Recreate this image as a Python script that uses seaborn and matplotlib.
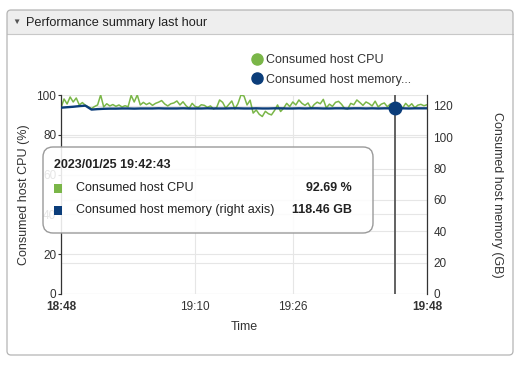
import matplotlib
matplotlib.use("Agg")
import matplotlib.pyplot as plt
import matplotlib.transforms as mtransforms
from matplotlib.patches import FancyBboxPatch, Rectangle
from matplotlib.lines import Line2D
import pandas as pd
import seaborn as sns

# ── data ────────────────────────────────────────────────────────────────────
START = "2023-01-25 18:48"

# consumed host CPU (%), one sample every 30 s
cpu_pct = [
    93.5, 98.0, 95.5, 99.0, 96.5, 98.5, 95.0, 96.2, 94.8, 94.0,
    93.2, 94.2, 95.0, 100.0, 94.0, 95.6, 94.5, 95.2, 94.3, 95.0,
    94.0, 94.6, 94.1, 99.8, 96.5, 100.0, 95.0, 96.3, 95.2, 96.0,
    94.8, 95.8, 96.4, 97.2, 95.5, 94.5, 95.6, 96.0, 97.0, 95.0,
    96.6, 94.6, 93.3, 95.8, 94.2, 93.8, 95.1, 94.8, 93.8, 94.5,
    93.0, 93.6, 97.5, 96.3, 93.4, 95.2, 97.0, 93.0, 95.6, 100.0,
    99.5, 95.0, 97.4, 90.9, 92.5, 90.3, 89.2, 91.8, 90.6, 90.0,
    92.2, 95.0, 91.7, 93.4, 95.8, 94.2, 96.5, 95.0, 97.5, 95.8,
    94.8, 96.0, 93.2, 95.2, 96.4, 95.6, 97.8, 93.5, 95.4, 94.3,
    96.3, 96.8, 95.3, 93.2, 93.0, 95.8, 95.1, 97.5, 96.2, 94.8,
    96.5, 95.7, 94.5, 96.9, 94.0, 95.4, 96.0, 94.1, 95.5, 93.8,
    92.7, 95.0, 93.4, 95.8, 94.2, 95.6, 93.6, 94.9, 95.3, 94.6,
    95.1,
]

# consumed host memory (GB), one sample per minute
mem_gb = [
    118.9, 119.2, 119.5, 119.9, 120.2, 117.7, 118.0, 118.2, 118.3, 118.3,
    118.4, 118.4, 118.3, 118.4, 118.4, 118.4, 118.5, 118.4, 118.4, 118.4,
    118.5, 118.4, 118.4, 118.4, 118.5, 118.4, 118.4, 118.4, 118.5, 118.5,
    118.4, 118.4, 118.5, 118.4, 118.4, 118.5, 118.5, 118.4, 118.4, 118.5,
    118.4, 118.5, 118.5, 118.4, 118.4, 118.5, 118.5, 118.4, 118.5, 118.5,
    118.4, 118.5, 118.4, 118.5, 118.5, 118.46, 118.5, 118.4, 118.5, 118.5,
    118.5,
]

x_tick_labels = ["18:48", "19:10", "19:26", "19:48"]
cpu_ticks = [0, 20, 40, 60, 80, 100]
mem_ticks = [0, 20, 40, 60, 80, 100, 120]
MEM_MAX = 127.0

hover_time = "2023-01-25 19:42:43"
hover_label = "2023/01/25 19:42:43"
hover_cpu = 92.69
hover_mem = 118.46

GREEN = "#7ab648"
NAVY = "#0b3d7a"
GRID = "#e6e6e6"
TXT = "#333333"

W, H = 525, 382
def fx(px): return px / W
def fy(py): return 1 - py / H

df_cpu = pd.DataFrame({"time": pd.date_range(START, periods=len(cpu_pct), freq="30s"),
                       "cpu": cpu_pct})
df_mem = pd.DataFrame({"time": pd.date_range(START, periods=len(mem_gb), freq="60s"),
                       "mem": mem_gb})

# ── figure ──────────────────────────────────────────────────────────────────
sns.set_theme(style="white")
plt.rcParams["font.family"] = ["Liberation Sans", "DejaVu Sans"]

fig = plt.figure(figsize=(W / 100, H / 100), dpi=100)
px = mtransforms.IdentityTransform()

# panel + header
fig.add_artist(FancyBboxPatch((7, H - 355), 506, 345, boxstyle="round,pad=0,rounding_size=4",
                              transform=px, fc="white", ec="none", zorder=-5))
fig.add_artist(FancyBboxPatch((7, H - 34), 506, 24, boxstyle="round,pad=0,rounding_size=4",
                              transform=px, fc="#eeeeee", ec="none", zorder=-4))
fig.add_artist(Rectangle((7, H - 34), 506, 8, transform=px, fc="#eeeeee", ec="none", zorder=-4))
fig.add_artist(Line2D([7, 513], [H - 34, H - 34], transform=px, color="#c8c8c8", lw=0.8, zorder=-3))
fig.add_artist(FancyBboxPatch((7, H - 355), 506, 345, boxstyle="round,pad=0,rounding_size=4",
                              transform=px, fc="none", ec="#b4b4b4", lw=0.9, zorder=20))
fig.text(fx(16), fy(22.5), "\u25bc", fontsize=6, color="#555555", ha="center", va="center")
fig.text(fx(26), fy(23), "Performance summary last hour", fontsize=9.2, color="#222222",
         va="center")

ax = fig.add_axes([fx(61), fy(294), fx(427) - fx(61), fy(95) - fy(294)])
ax2 = ax.twinx()

sns.lineplot(data=df_cpu, x="time", y="cpu", ax=ax, color=GREEN, lw=1.1)
sns.lineplot(data=df_mem, x="time", y="mem", ax=ax2, color=NAVY, lw=1.7)

ax.set_xlim(df_cpu["time"].iloc[0], df_cpu["time"].iloc[-1])
ax.set_ylim(0, 100)
ax2.set_ylim(0, MEM_MAX)
ax.set_yticks(cpu_ticks)
ax2.set_yticks(mem_ticks)
xt = [pd.Timestamp(f"2023-01-25 {t}") for t in x_tick_labels]
ax.set_xticks(xt)
ax.set_xticklabels(x_tick_labels)
for i in (0, -1):
    ax.get_xticklabels()[i].set_fontweight("bold")

# grid: left ticks, right ticks and x ticks, all under the lines
ax.grid(True, color=GRID, lw=0.8)
ax.set_axisbelow(True)
blend = mtransforms.blended_transform_factory(ax.transAxes, ax2.transData)
for v in mem_ticks:
    ax.plot([0, 1], [v, v], transform=blend, color=GRID, lw=0.8, zorder=0.5)

for s in ("top", "bottom", "right"):
    ax.spines[s].set_visible(False)
for s in ("top", "bottom", "left"):
    ax2.spines[s].set_visible(False)
ax.spines["left"].set_color(TXT)
ax.spines["left"].set_linewidth(0.9)
ax2.spines["right"].set_color(TXT)
ax2.spines["right"].set_linewidth(0.9)

ax.tick_params(axis="y", length=2.5, width=0.8, pad=1, labelsize=8.5, colors=TXT, left=True)
ax.tick_params(axis="x", length=0, pad=5, labelsize=8.5, colors=TXT)
ax2.tick_params(axis="y", length=0, pad=4.5, labelsize=8.5, colors=TXT)

ax.set_xlabel("Time", fontsize=9, color=TXT)
ax.xaxis.set_label_coords(0.5, (294 - 321) / 199, transform=ax.transAxes)
ax.set_ylabel("Consumed host CPU (%)", fontsize=9, color=TXT)
ax.yaxis.set_label_coords((30 - 61) / 366, 0.5)
ax2.set_ylabel("Consumed host memory (GB)", fontsize=9, color=TXT, rotation=270, va="center")
ax2.yaxis.set_label_coords((497 - 61) / 366, 0.5)

# hover crosshair + point
ht = pd.Timestamp(hover_time)
ax2.axvline(ht, color="#555555", lw=1.3, zorder=3)
ax2.plot([ht], [hover_mem], marker="o", ms=9, color=NAVY, ls="", zorder=4)

# legend
handles = [Line2D([], [], marker="o", ls="", ms=8, color=GREEN),
           Line2D([], [], marker="o", ls="", ms=8, color=NAVY)]
fig.legend(handles, ["Consumed host CPU", "Consumed host memory..."], loc="upper left",
           bbox_to_anchor=(fx(251), fy(54)), frameon=False, fontsize=9, borderpad=0,
           borderaxespad=0, handlelength=1, handletextpad=0.2, labelspacing=0.62,
           labelcolor=TXT)

# tooltip
fig.add_artist(FancyBboxPatch((43, H - 233), 330, 86, boxstyle="round,pad=0,rounding_size=10",
                              transform=px, fc=(1, 1, 1, 0.88), ec="#9a9a9a", lw=1, zorder=10))
fig.text(fx(54), fy(165), hover_label, fontsize=9, weight="bold", color="#222222",
         va="center", zorder=11)
fig.add_artist(Rectangle((54, H - 193), 8, 9, transform=px, fc=GREEN, ec="none", zorder=11))
fig.add_artist(Rectangle((54, H - 215), 8, 9, transform=px, fc=NAVY, ec="none", zorder=11))
fig.text(fx(76), fy(188), "Consumed host CPU", fontsize=9, color="#222222", va="center", zorder=11)
fig.text(fx(76), fy(210), "Consumed host memory (right axis)", fontsize=9, color="#222222",
         va="center", zorder=11)
fig.text(fx(352), fy(188), f"{hover_cpu:.2f} %", fontsize=9, weight="bold", color="#222222",
         va="center", ha="right", zorder=11)
fig.text(fx(352), fy(210), f"{hover_mem:.2f} GB", fontsize=9, weight="bold", color="#222222",
         va="center", ha="right", zorder=11)

fig.savefig("out.png", dpi=100)
